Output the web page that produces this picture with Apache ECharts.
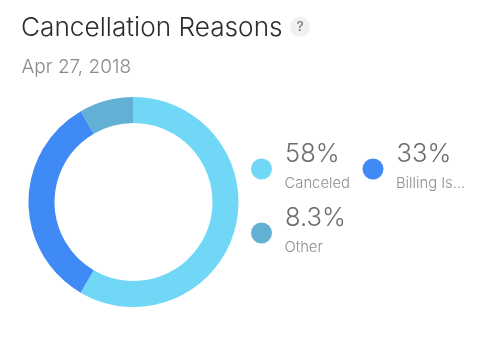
<!DOCTYPE html>
<html><head><meta charset="utf-8">
<style>html,body{margin:0;padding:0;background:#fff}#c{width:500px;height:364px}</style>
<script src="https://cdn.jsdelivr.net/npm/echarts@6/dist/echarts.min.js"></script>
</head><body><div id="c"></div>
<script>
const titleText = 'Cancellation Reasons';
const dateText = 'Apr 27, 2018';
const categories = ['Canceled', 'Billing Issue', 'Other'];
const shortLabels = ['Canceled', 'Billing Is...', 'Other'];
const values = [58, 33, 8.3];
const colors = ['#70D7F7', '#3F8AF5', '#62B0D3'];
const legendX = [261.5, 373, 261.5];
const legendY = [169, 169, 233];
const font = 'Inter, Roboto, sans-serif';

const chart = echarts.init(document.getElementById('c'), null, {renderer: 'canvas'});
const legendItems = [];
categories.forEach((c, i) => {
  legendItems.push({type: 'circle', shape: {cx: legendX[i], cy: legendY[i], r: 10.5}, style: {fill: colors[i]}});
  legendItems.push({type: 'text', x: legendX[i] + 23.5, y: legendY[i] - 14.5, style: {
    text: values[i] + '%', font: '300 25.5px ' + font, fill: '#6e6e6e', textVerticalAlign: 'middle'}});
  legendItems.push({type: 'text', x: legendX[i] + 23, y: legendY[i] + 15, style: {
    text: shortLabels[i], font: '300 14.8px ' + font, fill: '#8e8e8e', textVerticalAlign: 'middle'}});
});
chart.setOption({
  animation: false,
  backgroundColor: '#fff',
  series: [{
    type: 'pie', center: [133.5, 202], radius: [79, 105], startAngle: 90, clockwise: true,
    label: {show: false}, labelLine: {show: false}, silent: true,
    data: categories.map((c, i) => ({name: c, value: values[i], itemStyle: {color: colors[i]}}))
  }],
  graphic: [
    {type: 'text', x: 21, y: 28, style: {text: titleText, font: '300 26.2px ' + font, fill: '#2c2c2c', textVerticalAlign: 'middle'}},
    {type: 'text', x: 21.5, y: 67, style: {text: dateText, font: '300 19px ' + font, fill: '#8a8a8a', textVerticalAlign: 'middle'}},
    {type: 'circle', shape: {cx: 300, cy: 26.7, r: 10.2}, style: {fill: '#f1f1f3'}},
    {type: 'text', x: 300, y: 27, style: {text: '?', font: '500 13.5px ' + font, fill: '#777', textAlign: 'center', textVerticalAlign: 'middle'}},
    ...legendItems
  ]
});
</script></body></html>
